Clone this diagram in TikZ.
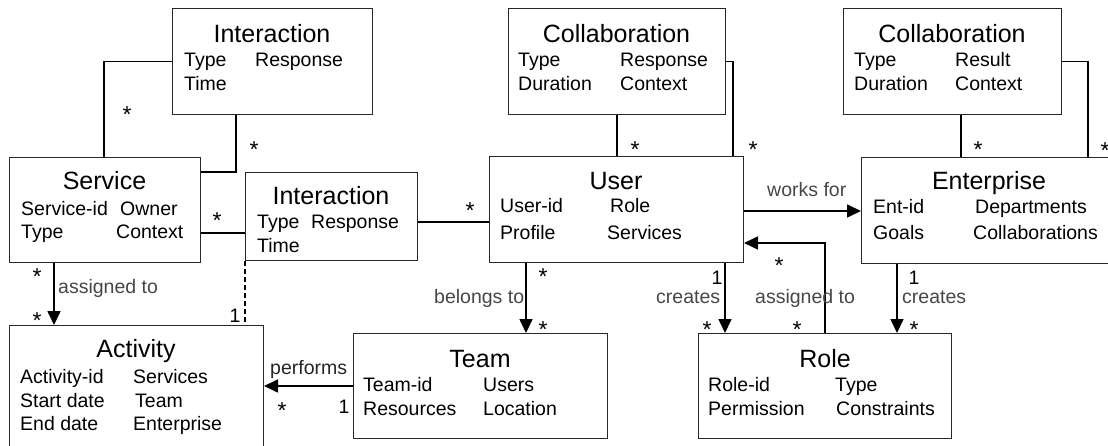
\documentclass[tikz,border=0pt]{standalone}
\usepackage{fontspec}
\setmainfont{Liberation Sans}
\usetikzlibrary{arrows.meta}
\definecolor{edge}{RGB}{40,40,40}
\definecolor{lbl}{RGB}{70,70,70}
\tikzset{
  box/.style={draw=edge, line width=1pt, rectangle, inner sep=0pt, anchor=north west},
  title/.style={font=\fontsize{25}{30}\selectfont, inner sep=0pt, anchor=base},
  attr/.style={font=\fontsize{19.5}{23}\selectfont, inner sep=0pt, anchor=base west},
  lab/.style={font=\fontsize{19.5}{23}\selectfont, text=lbl, inner sep=0pt, anchor=base west},
  mult/.style={font=\fontsize{19.5}{23}\selectfont, inner sep=0pt, anchor=base},
  many/.style={font=\fontsize{23}{26}\selectfont, inner sep=0pt, anchor=base},
  conn/.style={line width=1.6pt, draw=black},
  arr/.style={conn, -{Triangle[length=14pt,width=13pt]}},
  dep/.style={conn, dash pattern=on 5pt off 3pt},
}
\begin{document}
\begin{tikzpicture}[x=1pt,y=-1pt]
\useasboundingbox (0,0) rectangle (1108,446);
\clip (0,0) rectangle (1108,446);

% ---------- class boxes ----------
\node[box, minimum width=200pt, minimum height=106pt] (int1) at (172,8) {};
\node[box, minimum width=191pt, minimum height=105pt] (svc)  at (9,157) {};
\node[box, minimum width=172pt, minimum height=88pt]  (int2) at (245,172) {};
\node[box, minimum width=254pt, minimum height=106pt] (user) at (489,156) {};
\node[box, minimum width=217pt, minimum height=106pt] (col1) at (508,8) {};
\node[box, minimum width=218pt, minimum height=106pt] (col2) at (843,8) {};
\node[box, minimum width=260pt, minimum height=106pt] (ent)  at (861,157) {};
\node[box, minimum width=254pt, minimum height=130pt] (act)  at (9,325) {};
\node[box, minimum width=254pt, minimum height=105pt] (team) at (353,333) {};
\node[box, minimum width=253pt, minimum height=105pt] (role) at (698,333) {};

% ---------- box contents ----------
\node[title] (int1-t) at (272,43) {Interaction};
\node[attr] (int1-a) at (184,67) {Type};
\node[attr] (int1-b) at (255,67) {Response};
\node[attr] (int1-c) at (184,91) {Time};

\node[title] (svc-t) at (104.5,190) {Service};
\node[attr] (svc-a) at (21,216) {Service-id};
\node[attr] (svc-b) at (120,216) {Owner};
\node[attr] (svc-c) at (21,239) {Type};
\node[attr] (svc-d) at (116,239) {Context};

\node[title] (int2-t) at (331,205) {Interaction};
\node[attr] (int2-a) at (257,229) {Type};
\node[attr] (int2-b) at (311,229) {Response};
\node[attr] (int2-c) at (257,253) {Time};

\node[title] (user-t) at (616,190) {User};
\node[attr] (user-a) at (500,213) {User-id};
\node[attr] (user-b) at (610,213) {Role};
\node[attr] (user-c) at (500,240) {Profile};
\node[attr] (user-d) at (607,240) {Services};

\node[title] (col1-t) at (616.5,43) {Collaboration};
\node[attr] (col1-a) at (518,67) {Type};
\node[attr] (col1-b) at (620,67) {Response};
\node[attr] (col1-c) at (518,91) {Duration};
\node[attr] (col1-d) at (620,91) {Context};

\node[title] (col2-t) at (952,43) {Collaboration};
\node[attr] (col2-a) at (854,67) {Type};
\node[attr] (col2-b) at (955,67) {Result};
\node[attr] (col2-c) at (854,91) {Duration};
\node[attr] (col2-d) at (955,91) {Context};

\node[title] (ent-t) at (989,190) {Enterprise};
\node[attr] (ent-a) at (873,214) {Ent-id};
\node[attr] (ent-b) at (975,214) {Departments};
\node[attr] (ent-c) at (873,240) {Goals};
\node[attr] (ent-d) at (973,240) {Collaborations};

\node[title] (act-t) at (136,357) {Activity};
\node[attr] (act-a) at (20,383) {Activity-id};
\node[attr] (act-b) at (133,383) {Services};
\node[attr] (act-c) at (20,407) {Start date};
\node[attr] (act-d) at (135,407) {Team};
\node[attr] (act-e) at (20,430) {End date};
\node[attr] (act-f) at (133,430) {Enterprise};

\node[title] (team-t) at (480,367) {Team};
\node[attr] (team-a) at (363,391) {Team-id};
\node[attr] (team-b) at (483,391) {Users};
\node[attr] (team-c) at (363,415) {Resources};
\node[attr] (team-d) at (483,415) {Location};

\node[title] (role-t) at (825,367) {Role};
\node[attr] (role-a) at (708,391) {Role-id};
\node[attr] (role-b) at (835,391) {Type};
\node[attr] (role-c) at (708,415) {Permission};
\node[attr] (role-d) at (836,415) {Constraints};

% ---------- routing points ----------
\coordinate (k1) at (104,62);
\coordinate (k2) at (236,172);
\coordinate (k3) at (220,233);
\coordinate (k5) at (54,300);
\coordinate (k6) at (300,386);
\coordinate (k7) at (450,222);
\coordinate (k8) at (617,130);
\coordinate (k9) at (733,130);
\coordinate (k10) at (961,130);
\coordinate (k11) at (1088,130);
\coordinate (k12) at (800,211);
\coordinate (k13) at (526,300);
\coordinate (k14) at (725,300);
\coordinate (k15) at (825,243);
\coordinate (k16) at (897,300);

% ---------- associations ----------
\draw[conn] (svc.north -| k1) |- (int1.west);
\draw[conn] (int1.south -| k2) -- (k2) -- (k2 -| svc.east);
\draw[conn] (svc.east |- k3) -- (int2.west |- k3);
\draw[dep] (int2.south west) -- (int2.south west |- act.north);
\draw[arr] (svc.south -| k5) -- (act.north -| k5);
\draw[arr] (team.west |- k6) -- (act.east |- k6);
\draw[conn] (int2.east |- k7) -- (user.west |- k7);
\draw[conn] (col1.south -| k8) -- (user.north -| k8);
\draw[conn] (col1.east) -| (user.north -| k9);
\draw[conn] (col2.south -| k10) -- (ent.north -| k10);
\draw[conn] (col2.east) -| (ent.north -| k11);
\draw[arr] (user.east |- k12) -- (ent.west |- k12);
\draw[arr] (user.south -| k13) -- (team.north -| k13);
\draw[arr] (user.south -| k14) -- (role.north -| k14);
\draw[arr] (role.north -| k15) -- (k15) -- (k15 -| user.east);
\draw[arr] (ent.south -| k16) -- (role.north -| k16);

% ---------- role names ----------
\node[lab] (l-assign1) at (58,294) {assigned to};
\node[lab, text=black!85] (l-perf) at (270,374) {performs};
\node[lab] (l-belong) at (434,303) {belongs to};
\node[lab] (l-create1) at (656,304) {creates};
\node[lab] (l-assign2) at (755,303) {assigned to};
\node[lab] (l-create2) at (902,304) {creates};
\node[lab] (l-works) at (767,197) {works for};

% ---------- multiplicities ----------
\node[many] (m1) at (127,123) {*};
\node[many] (m2) at (254,158) {*};
\node[many] (m3) at (217,229) {*};
\node[many] (m4) at (470,219) {*};
\node[many] (m5) at (635,158) {*};
\node[many] (m6) at (753,158) {*};
\node[many] (m7) at (978,158) {*};
\node[many] (m8) at (1105,159) {*};
\node[many] (m9) at (37,284) {*};
\node[many] (m10) at (37,328) {*};
\node[many] (m11) at (282,418) {*};
\node[many] (m12) at (543,284) {*};
\node[many] (m13) at (543,337) {*};
\node[many] (m14) at (707,337) {*};
\node[many] (m15) at (779,274) {*};
\node[many] (m16) at (797,337) {*};
\node[many] (m17) at (914,337) {*};
\node[mult] (n1) at (235,322) {1};
\node[mult] (n2) at (344,413) {1};
\node[mult] (n3) at (717,285) {1};
\node[mult] (n4) at (914,285) {1};
\end{tikzpicture}
\end{document}
